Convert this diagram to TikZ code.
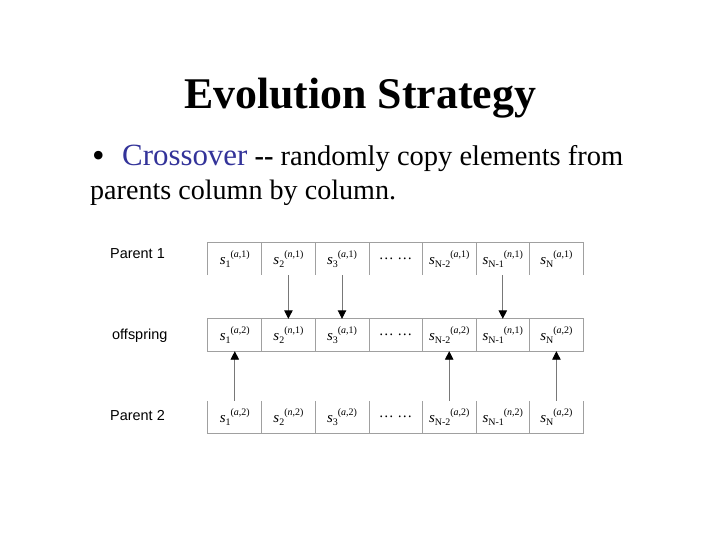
\documentclass[tikz,border=0pt]{standalone}
\usepackage{fontspec}
\setmainfont{Liberation Serif}
\newfontfamily\labelfont{Liberation Sans}
\usetikzlibrary{arrows.meta}
\definecolor{crossblue}{RGB}{51,51,153}
\definecolor{gridgray}{RGB}{160,160,160}
\definecolor{passgray}{RGB}{120,120,120}
% one gene: s, subscript, then superscript
\newcommand{\gene}[3]{\textit{s}\raisebox{-0.45ex}{\fontsize{10}{10}\selectfont #1}\raisebox{1.0ex}{\fontsize{10}{10}\selectfont(\textit{#2},#3)}}
\begin{document}
\begin{tikzpicture}[x=1bp,y=-1bp,
  genecell/.style={minimum width=53.6bp, minimum height=32bp, inner sep=0pt,
    font=\fontsize{15}{15}\selectfont},
  rowlabel/.style={anchor=west, inner sep=0pt, font=\labelfont\fontsize{14.5}{14.5}\selectfont},
  grid/.style={draw=gridgray, line width=0.8bp},
  pass/.style={draw=passgray, line width=0.9bp,
    -{Triangle[width=8.5bp, length=8.5bp, color=black]}}]
  \useasboundingbox (0,0) rectangle (720,540);
  \def\colw{53.6}
  \def\xzero{208}
  % heading and bullet text
  \node (title) [anchor=base] at (360,109)
    {\fontsize{44}{44}\selectfont\bfseries Evolution Strategy};
  \node (bullet) [anchor=base west, inner sep=0pt] at (92,168)
    {\fontsize{36}{36}\selectfont •};
  \node (line1) [anchor=base west, inner sep=0pt] at (122,166)
    {\fontsize{28.6}{28.6}\selectfont\textcolor{crossblue}{\fontsize{31}{31}\selectfont Crossover} \textbf{-{}-} randomly copy elements from};
  \node (line2) [anchor=base west, inner sep=0pt] at (90,200)
    {\fontsize{28.2}{28.2}\selectfont parents column by column.};
  % row labels
  \node (lparent1) [rowlabel] at (110,254) {Parent 1};
  \node (loffspring) [rowlabel] at (112,336) {offspring};
  \node (lparent2) [rowlabel] at (110,416) {Parent 2};
  % parent 1
  \node (p1s1) [genecell] at (\xzero+0.5*\colw,259) {\gene{1}{a}{1}};
  \node (p1s2) [genecell] at (\xzero+1.5*\colw,259) {\gene{2}{n}{1}};
  \node (p1s3) [genecell] at (\xzero+2.5*\colw,259) {\gene{3}{a}{1}};
  \node (p1s4) [genecell] at (\xzero+3.5*\colw,259) {\ldots\ \ldots};
  \node (p1s5) [genecell] at (\xzero+4.5*\colw,259) {\gene{N-2}{a}{1}};
  \node (p1s6) [genecell] at (\xzero+5.5*\colw,259) {\gene{N-1}{n}{1}};
  \node (p1s7) [genecell] at (\xzero+6.5*\colw,259) {\gene{N}{a}{1}};
  % offspring
  \node (offs1) [genecell] at (\xzero+0.5*\colw,335) {\gene{1}{a}{2}};
  \node (offs2) [genecell] at (\xzero+1.5*\colw,335) {\gene{2}{n}{1}};
  \node (offs3) [genecell] at (\xzero+2.5*\colw,335) {\gene{3}{a}{1}};
  \node (offs4) [genecell] at (\xzero+3.5*\colw,335) {\ldots\ \ldots};
  \node (offs5) [genecell] at (\xzero+4.5*\colw,335) {\gene{N-2}{a}{2}};
  \node (offs6) [genecell] at (\xzero+5.5*\colw,335) {\gene{N-1}{n}{1}};
  \node (offs7) [genecell] at (\xzero+6.5*\colw,335) {\gene{N}{a}{2}};
  % parent 2
  \node (p2s1) [genecell] at (\xzero+0.5*\colw,417) {\gene{1}{a}{2}};
  \node (p2s2) [genecell] at (\xzero+1.5*\colw,417) {\gene{2}{n}{2}};
  \node (p2s3) [genecell] at (\xzero+2.5*\colw,417) {\gene{3}{a}{2}};
  \node (p2s4) [genecell] at (\xzero+3.5*\colw,417) {\ldots\ \ldots};
  \node (p2s5) [genecell] at (\xzero+4.5*\colw,417) {\gene{N-2}{a}{2}};
  \node (p2s6) [genecell] at (\xzero+5.5*\colw,417) {\gene{N-1}{n}{2}};
  \node (p2s7) [genecell] at (\xzero+6.5*\colw,417) {\gene{N}{a}{2}};
  % cell borders
  \draw[grid] (p1s1.south west) -- (p1s1.north west) -- (p1s7.north east) -- (p1s7.south east);
  \draw[grid] (offs1.north west) rectangle (offs7.south east);
  \draw[grid] (p2s1.north west) -- (p2s1.south west) -- (p2s7.south east) -- (p2s7.north east);
  \foreach \i in {1,...,6} {
    \draw[grid] (p1s\i.north east) -- (p1s\i.south east);
    \draw[grid] (offs\i.north east) -- (offs\i.south east);
    \draw[grid] (p2s\i.north east) -- (p2s\i.south east);
  }
  % copied columns
  \draw[pass] (p1s2.south) -- (offs2.north);
  \draw[pass] (p1s3.south) -- (offs3.north);
  \draw[pass] (p1s6.south) -- (offs6.north);
  \draw[pass] (p2s1.north) -- (offs1.south);
  \draw[pass] (p2s5.north) -- (offs5.south);
  \draw[pass] (p2s7.north) -- (offs7.south);
\end{tikzpicture}
\end{document}
